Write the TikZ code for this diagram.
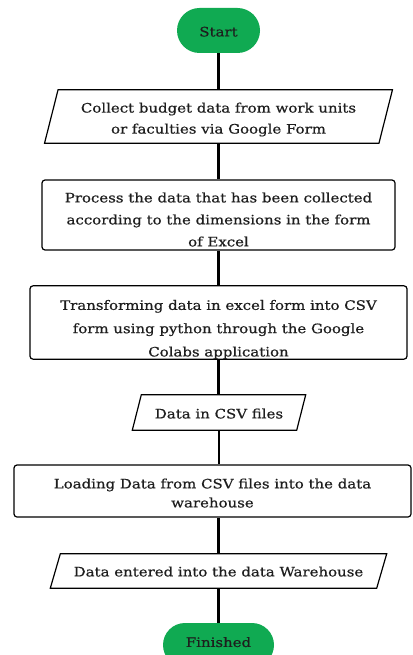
\documentclass[tikz,border=0pt]{standalone}
\usepackage{fontspec}
\setmainfont[FakeStretch=1.15, FakeBold=0.6]{DejaVu Serif}
\usetikzlibrary{shapes.misc}

\definecolor{termgreen}{RGB}{16,170,82}
\definecolor{inkgray}{RGB}{30,30,30}

\tikzset{
  base/.style={font=\fontsize{13}{21}\selectfont, text=inkgray, align=center,
    inner sep=0pt},
  term/.style={base, rounded rectangle, fill=termgreen, draw=none},
  procbox/.style={base, draw=black, rounded corners=3pt, line width=1.2pt},
  iobox/.style={base, draw=none},
  link/.style={draw=black, line width=2.2pt},
}

% pushes the text block of a node down by #1
\newcommand\pushdown[1]{\rule{0pt}{\dimexpr 10pt+#1*2\relax}}
% pushes the text block of a node up by #1
\newcommand\pushup[1]{\rule[\dimexpr -#1*2\relax]{0pt}{\dimexpr #1*2\relax}}

% draws a parallelogram around a plain node, slanted by #2
\newcommand\ioshape[2]{%
  \draw[line width=1.2pt, line join=miter]
    ([xshift=-#2/2]#1.south west) -- ([xshift=#2/2]#1.north west)
    -- ([xshift=#2/2]#1.north east) -- ([xshift=-#2/2]#1.south east) -- cycle;}

\begin{document}
\begin{tikzpicture}[x=1pt, y=-1pt]
  \useasboundingbox (0,0) rectangle (412,655);
  \clip (0,0) rectangle (412,655);

  \node[term, minimum width=83pt, minimum height=45pt] (start) at (218.5,30.5) {\pushdown{1pt}Start};

  \node[iobox, minimum width=334pt, minimum height=53pt] (collect) at (218.5,116.5)
    {\pushdown{3pt}Collect budget data from work units\\or faculties via Google Form};
  \ioshape{collect}{13.5pt}

  \node[procbox, minimum width=353pt, minimum height=70pt] (process) at (218.5,215)
    {\pushdown{4.5pt}Process the data that has been collected\\[1pt]according to the dimensions in the form\\[1pt]of Excel};

  \node[procbox, minimum width=377pt, minimum height=71pt] (transform) at (218.5,322.5)
    {\pushdown{7pt}Transforming data in excel form into CSV\\[2.3pt]form using python through the Google\\[2.3pt]Colabs application};

  \node[iobox, minimum width=164pt, minimum height=35pt] (csv) at (219,412.5)
    {\pushdown{1pt}Data in CSV files};
  \ioshape{csv}{9pt}

  \node[procbox, minimum width=397pt, minimum height=52pt] (load) at (212.5,491)
    {\pushdown{2pt}Loading Data from CSV files into the data\\[-2pt]warehouse};

  \node[iobox, minimum width=326pt, minimum height=34pt] (entered) at (218.5,571)
    {\pushdown{0.5pt}Data entered into the data Warehouse};
  \ioshape{entered}{10pt}

  \node[term, minimum width=111pt, minimum height=44pt] (finish) at (218.5,645) {Finished\pushup{3pt}};

  \draw[link] (start.south) -- (start.south |- collect.north);
  \draw[link] (collect.south) -- (collect.south |- process.north);
  \draw[link] (process.south) -- (process.south |- transform.north);
  \draw[link] (transform.south) -- (transform.south |- csv.north);
  \draw[link] (csv.south) -- (csv.south |- load.north);
  \draw[link] (entered.north |- load.south) -- (entered.north);
  \draw[link] (entered.south) -- (entered.south |- finish.north);
\end{tikzpicture}
\end{document}
